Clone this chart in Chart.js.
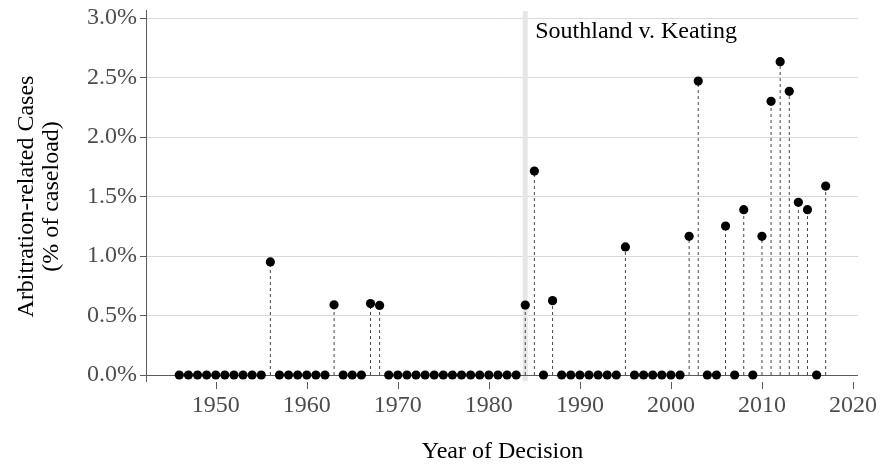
<!DOCTYPE html>
<html>
<head>
<meta charset="utf-8">
<script src="https://cdn.jsdelivr.net/npm/chart.js@4.4.1/dist/chart.umd.min.js"></script>
<style>
  html, body { margin: 0; padding: 0; background: #fff; }
  #wrap { width: 880px; height: 464px; }
</style>
</head>
<body>
<div id="wrap"><canvas id="chart" width="880" height="464"></canvas></div>
<script>
// year of decision and arbitration-related share of the caseload (%)
var years = [
  1946, 1947, 1948, 1949, 1950, 1951, 1952, 1953, 1954, 1955,
  1956, 1957, 1958, 1959, 1960, 1961, 1962, 1963, 1964, 1965,
  1966, 1967, 1968, 1969, 1970, 1971, 1972, 1973, 1974, 1975,
  1976, 1977, 1978, 1979, 1980, 1981, 1982, 1983, 1984, 1985,
  1986, 1987, 1988, 1989, 1990, 1991, 1992, 1993, 1994, 1995,
  1996, 1997, 1998, 1999, 2000, 2001, 2002, 2003, 2004, 2005,
  2006, 2007, 2008, 2009, 2010, 2011, 2012, 2013, 2014, 2015,
  2016, 2017
];
var shares = [
  0, 0, 0, 0, 0, 0, 0, 0, 0, 0,
  0.95, 0, 0, 0, 0, 0, 0, 0.59, 0, 0,
  0, 0.60, 0.585, 0, 0, 0, 0, 0, 0, 0,
  0, 0, 0, 0, 0, 0, 0, 0, 0.588, 1.714,
  0, 0.625, 0, 0, 0, 0, 0, 0, 0, 1.076,
  0, 0, 0, 0, 0, 0, 1.165, 2.47, 0, 0,
  1.252, 0, 1.389, 0, 1.165, 2.30, 2.633, 2.384, 1.451, 1.389,
  0, 1.588
];
var xTicks = [1950, 1960, 1970, 1980, 1990, 2000, 2010, 2020];
var yTicks = [0, 0.5, 1.0, 1.5, 2.0, 2.5, 3.0];
var eventYear = 1984;
var eventLabel = "Southland v. Keating";

var serif = '"Liberation Serif", "DejaVu Serif", serif';

var points = years.map(function (yr, i) { return {x: yr, y: shares[i]}; });

// dashed stems from zero up to each non-zero value, split by gaps
var stems = [];
years.forEach(function (yr, i) {
  if (shares[i] > 0) {
    stems.push({x: yr, y: 0}, {x: yr, y: shares[i]}, {x: yr, y: null});
  }
});

var decor = {
  id: 'decor',
  beforeDatasetsDraw: function (chart) {
    var ctx = chart.ctx, a = chart.chartArea;
    var xs = chart.scales.x;
    ctx.save();
    // event marker
    var ex = xs.getPixelForValue(eventYear);
    ctx.fillStyle = '#e6e6e6';
    ctx.fillRect(ex - 2.5, a.top - 7, 5, a.bottom - a.top + 13);
    // axis lines, extended a little past the panel
    ctx.strokeStyle = '#5a5a5a';
    ctx.lineWidth = 1;
    ctx.beginPath();
    ctx.moveTo(a.left - 0.5, a.top - 8);
    ctx.lineTo(a.left - 0.5, a.bottom + 7);
    ctx.moveTo(a.left - 7, a.bottom + 0.5);
    ctx.lineTo(a.right, a.bottom + 0.5);
    // x tick marks, set off below the axis
    xs.ticks.forEach(function (t) {
      var px = Math.round(xs.getPixelForValue(t.value)) + 0.5;
      ctx.moveTo(px, a.bottom + 7);
      ctx.lineTo(px, a.bottom + 14);
    });
    ctx.stroke();
    ctx.restore();
  },
  afterDatasetsDraw: function (chart) {
    var ctx = chart.ctx, a = chart.chartArea;
    var ex = chart.scales.x.getPixelForValue(eventYear);
    ctx.save();
    ctx.fillStyle = '#000';
    ctx.font = '24px ' + serif;
    ctx.textBaseline = 'alphabetic';
    ctx.fillText(eventLabel, ex + 10, a.top + 20);
    ctx.restore();
  }
};

new Chart(document.getElementById('chart'), {
  type: 'scatter',
  data: {
    datasets: [{
      data: points,
      order: 0,
      pointRadius: 4.6,
      pointHoverRadius: 4.6,
      backgroundColor: '#000',
      borderWidth: 0,
      clip: false
    }, {
      data: stems,
      order: 1,
      showLine: true,
      spanGaps: false,
      pointRadius: 0,
      borderColor: '#444',
      borderWidth: 1,
      borderDash: [3, 3],
      clip: false
    }]
  },
  options: {
    responsive: false,
    animation: false,
    layout: { padding: { top: 18, right: 22, left: 0, bottom: 0 } },
    plugins: { legend: { display: false }, tooltip: { enabled: false } },
    scales: {
      x: {
        type: 'linear',
        min: 1942.45,
        max: 2020.55,
        afterBuildTicks: function (s) { s.ticks = xTicks.map(function (v) { return {value: v}; }); },
        afterFit: function (s) { s.height = 89; s.paddingLeft = 0; s.paddingRight = 0; },
        grid: { display: false, drawTicks: false },
        border: { display: false },
        ticks: {
          padding: 16,
          color: '#4d4d4d',
          font: { family: serif, size: 24 },
          callback: function (v) { return String(v); }
        },
        title: {
          display: true,
          text: 'Year of Decision',
          color: '#000',
          font: { family: serif, size: 24, lineHeight: 1 },
          padding: { top: 0, bottom: 0 }
        }
      },
      y: {
        min: 0,
        max: 3,
        afterBuildTicks: function (s) { s.ticks = yTicks.map(function (v) { return {value: v}; }); },
        afterFit: function (s) { s.width = 147; s.paddingTop = 0; s.paddingBottom = 0; },
        grid: {
          color: '#d9d9d9',
          lineWidth: 1,
          drawTicks: true,
          tickLength: 7,
          tickColor: '#5a5a5a'
        },
        border: { display: false },
        ticks: {
          padding: 3,
          color: '#4d4d4d',
          font: { family: serif, size: 24 },
          callback: function (v) { return v.toFixed(1) + '%'; }
        },
        title: {
          display: true,
          text: ['Arbitration-related Cases', '(% of caseload)'],
          color: '#000',
          font: { family: serif, size: 24, lineHeight: 1.05 },
          padding: { top: 14, bottom: 0 }
        }
      }
    }
  },
  plugins: [decor]
});
</script>
</body>
</html>
